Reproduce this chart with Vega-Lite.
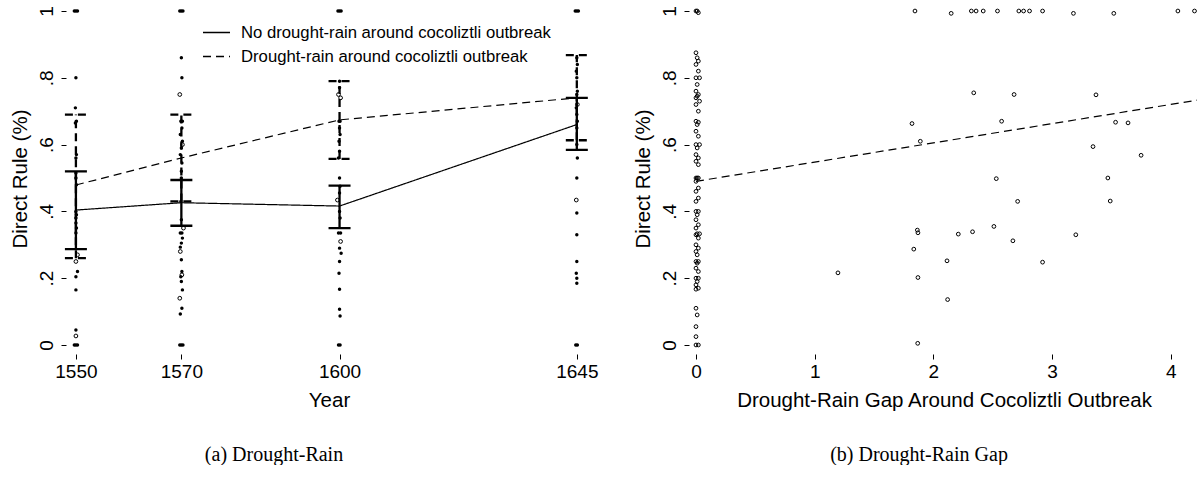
{
  "$schema": "https://vega.github.io/schema/vega-lite/v6.json",
  "background": "white",
  "padding": {"left": 10, "top": 5, "right": 0, "bottom": 0},
  "bounds": "flush",
  "spacing": 101,
  "config": {
    "view": {"stroke": null},
    "font": "Liberation Sans",
    "axis": {
      "domain": false, "grid": false, "ticks": true, "tickColor": "black", "tickSize": 5, "tickWidth": 1,
      "labelColor": "black", "titleColor": "black", "labelFontSize": 19, "titleFontSize": 20.5,
      "titleFontWeight": "normal", "labelFont": "Liberation Sans", "titleFont": "Liberation Sans", "offset": 2
    }
  },
  "datasets": {
    "pts1": [
      {"year": 1549.7, "v": 1.0, "k": "f"}, {"year": 1550.0, "v": 1.0, "k": "f"}, {"year": 1550.3, "v": 1.0, "k": "f"},
      {"year": 1550.0, "v": 0.8, "k": "f"}, {"year": 1549.9, "v": 0.71, "k": "f"}, {"year": 1550.1, "v": 0.67, "k": "f"},
      {"year": 1549.9, "v": 0.665, "k": "f"}, {"year": 1550.1, "v": 0.57, "k": "f"}, {"year": 1550.0, "v": 0.56, "k": "f"},
      {"year": 1550.0, "v": 0.515, "k": "f"}, {"year": 1550.0, "v": 0.5, "k": "f"}, {"year": 1550.1, "v": 0.48, "k": "f"},
      {"year": 1550.0, "v": 0.4, "k": "f"}, {"year": 1550.1, "v": 0.39, "k": "f"}, {"year": 1550.0, "v": 0.38, "k": "f"},
      {"year": 1550.0, "v": 0.365, "k": "f"}, {"year": 1550.1, "v": 0.35, "k": "f"}, {"year": 1550.0, "v": 0.335, "k": "f"},
      {"year": 1550.3, "v": 0.22, "k": "f"}, {"year": 1550.0, "v": 0.204, "k": "f"}, {"year": 1550.0, "v": 0.165, "k": "f"},
      {"year": 1550.0, "v": 0.045, "k": "f"}, {"year": 1549.7, "v": 0.0, "k": "f"}, {"year": 1550.0, "v": 0.0, "k": "f"},
      {"year": 1550.3, "v": 0.0, "k": "f"}, {"year": 1550.0, "v": 0.25, "k": "h"}, {"year": 1550.0, "v": 0.027, "k": "h"},
      {"year": 1550.3, "v": 0.27, "k": "h"},

      {"year": 1569.7, "v": 1.0, "k": "f"}, {"year": 1570.0, "v": 1.0, "k": "f"}, {"year": 1570.3, "v": 1.0, "k": "f"},
      {"year": 1570.0, "v": 0.86, "k": "f"}, {"year": 1570.1, "v": 0.8, "k": "f"}, {"year": 1569.9, "v": 0.67, "k": "f"},
      {"year": 1570.2, "v": 0.67, "k": "f"}, {"year": 1570.1, "v": 0.65, "k": "f"}, {"year": 1569.8, "v": 0.63, "k": "f"},
      {"year": 1570.2, "v": 0.61, "k": "f"}, {"year": 1570.0, "v": 0.59, "k": "f"}, {"year": 1569.8, "v": 0.57, "k": "f"},
      {"year": 1570.1, "v": 0.545, "k": "f"}, {"year": 1570.0, "v": 0.52, "k": "f"}, {"year": 1570.0, "v": 0.5, "k": "f"},
      {"year": 1569.9, "v": 0.43, "k": "f"}, {"year": 1570.0, "v": 0.375, "k": "f"}, {"year": 1569.8, "v": 0.335, "k": "f"},
      {"year": 1570.1, "v": 0.335, "k": "f"}, {"year": 1570.2, "v": 0.32, "k": "f"}, {"year": 1570.0, "v": 0.305, "k": "f"},
      {"year": 1569.8, "v": 0.293, "k": "f"}, {"year": 1570.0, "v": 0.255, "k": "f"}, {"year": 1570.1, "v": 0.22, "k": "f"},
      {"year": 1569.9, "v": 0.204, "k": "f"}, {"year": 1570.0, "v": 0.19, "k": "f"}, {"year": 1570.2, "v": 0.165, "k": "f"},
      {"year": 1570.1, "v": 0.11, "k": "f"}, {"year": 1569.8, "v": 0.093, "k": "f"}, {"year": 1569.7, "v": 0.0, "k": "f"},
      {"year": 1570.0, "v": 0.0, "k": "f"}, {"year": 1570.3, "v": 0.0, "k": "f"},
      {"year": 1569.7, "v": 0.75, "k": "h"}, {"year": 1570.2, "v": 0.6, "k": "h"}, {"year": 1570.4, "v": 0.35, "k": "h"},
      {"year": 1569.8, "v": 0.28, "k": "h"}, {"year": 1570.1, "v": 0.21, "k": "h"}, {"year": 1569.7, "v": 0.14, "k": "h"},

      {"year": 1599.7, "v": 1.0, "k": "f"}, {"year": 1600.0, "v": 1.0, "k": "f"}, {"year": 1600.3, "v": 1.0, "k": "f"},
      {"year": 1600.0, "v": 0.79, "k": "f"}, {"year": 1600.0, "v": 0.77, "k": "f"}, {"year": 1599.9, "v": 0.67, "k": "f"},
      {"year": 1600.1, "v": 0.67, "k": "f"}, {"year": 1600.0, "v": 0.65, "k": "f"}, {"year": 1600.1, "v": 0.63, "k": "f"},
      {"year": 1599.9, "v": 0.61, "k": "f"}, {"year": 1600.0, "v": 0.58, "k": "f"}, {"year": 1599.8, "v": 0.56, "k": "f"},
      {"year": 1600.0, "v": 0.5, "k": "f"}, {"year": 1600.1, "v": 0.475, "k": "f"}, {"year": 1600.0, "v": 0.455, "k": "f"},
      {"year": 1600.0, "v": 0.4, "k": "f"}, {"year": 1600.1, "v": 0.38, "k": "f"}, {"year": 1599.8, "v": 0.335, "k": "f"},
      {"year": 1600.2, "v": 0.335, "k": "f"}, {"year": 1600.0, "v": 0.29, "k": "f"}, {"year": 1600.3, "v": 0.275, "k": "f"},
      {"year": 1600.0, "v": 0.25, "k": "f"}, {"year": 1599.9, "v": 0.215, "k": "f"}, {"year": 1600.0, "v": 0.167, "k": "f"},
      {"year": 1600.0, "v": 0.107, "k": "f"}, {"year": 1600.1, "v": 0.087, "k": "f"}, {"year": 1599.8, "v": 0.0, "k": "f"},
      {"year": 1600.1, "v": 0.0, "k": "f"},
      {"year": 1599.8, "v": 0.75, "k": "h"}, {"year": 1600.2, "v": 0.74, "k": "h"}, {"year": 1599.6, "v": 0.434, "k": "h"},
      {"year": 1600.2, "v": 0.31, "k": "h"},

      {"year": 1644.7, "v": 1.0, "k": "f"}, {"year": 1645.0, "v": 1.0, "k": "f"}, {"year": 1645.3, "v": 1.0, "k": "f"},
      {"year": 1645.0, "v": 0.86, "k": "f"}, {"year": 1645.1, "v": 0.84, "k": "f"}, {"year": 1644.9, "v": 0.82, "k": "f"},
      {"year": 1645.0, "v": 0.8, "k": "f"}, {"year": 1645.1, "v": 0.76, "k": "f"}, {"year": 1645.0, "v": 0.75, "k": "f"},
      {"year": 1644.9, "v": 0.71, "k": "f"}, {"year": 1645.0, "v": 0.69, "k": "f"}, {"year": 1645.1, "v": 0.67, "k": "f"},
      {"year": 1645.0, "v": 0.65, "k": "f"}, {"year": 1645.0, "v": 0.6, "k": "f"}, {"year": 1645.1, "v": 0.56, "k": "f"},
      {"year": 1645.0, "v": 0.5, "k": "f"}, {"year": 1645.0, "v": 0.395, "k": "f"}, {"year": 1645.0, "v": 0.33, "k": "f"},
      {"year": 1645.0, "v": 0.25, "k": "f"}, {"year": 1644.9, "v": 0.215, "k": "f"}, {"year": 1645.0, "v": 0.2, "k": "f"},
      {"year": 1645.0, "v": 0.185, "k": "f"}, {"year": 1644.8, "v": 0.0, "k": "f"}, {"year": 1645.1, "v": 0.0, "k": "f"},
      {"year": 1644.9, "v": 0.434, "k": "h"}, {"year": 1645.1, "v": 0.72, "k": "h"}
    ],
    "means": [
      {"year": 1550, "v": 0.404, "lo": 0.287, "hi": 0.52, "g": "No drought-rain around cocoliztli outbreak"},
      {"year": 1570, "v": 0.426, "lo": 0.357, "hi": 0.494, "g": "No drought-rain around cocoliztli outbreak"},
      {"year": 1600, "v": 0.416, "lo": 0.35, "hi": 0.477, "g": "No drought-rain around cocoliztli outbreak"},
      {"year": 1645, "v": 0.66, "lo": 0.584, "hi": 0.74, "g": "No drought-rain around cocoliztli outbreak"},
      {"year": 1550, "v": 0.479, "lo": 0.26, "hi": 0.69, "g": "Drought-rain around cocoliztli outbreak"},
      {"year": 1570, "v": 0.56, "lo": 0.43, "hi": 0.69, "g": "Drought-rain around cocoliztli outbreak"},
      {"year": 1600, "v": 0.674, "lo": 0.557, "hi": 0.79, "g": "Drought-rain around cocoliztli outbreak"},
      {"year": 1645, "v": 0.74, "lo": 0.613, "hi": 0.868, "g": "Drought-rain around cocoliztli outbreak"}
    ],
    "pts2": [
      {"gap": 0.0, "v": 1.0}, {"gap": 0.01, "v": 1.0}, {"gap": 0.02, "v": 0.995}, {"gap": 0.0, "v": 0.875},
      {"gap": 0.01, "v": 0.86}, {"gap": 0.02, "v": 0.85}, {"gap": 0.0, "v": 0.84}, {"gap": 0.02, "v": 0.82},
      {"gap": 0.0, "v": 0.8}, {"gap": 0.03, "v": 0.8}, {"gap": 0.01, "v": 0.78}, {"gap": 0.0, "v": 0.76},
      {"gap": 0.02, "v": 0.75}, {"gap": 0.01, "v": 0.745}, {"gap": 0.0, "v": 0.74}, {"gap": 0.03, "v": 0.73},
      {"gap": 0.0, "v": 0.72}, {"gap": 0.02, "v": 0.7}, {"gap": 0.0, "v": 0.67}, {"gap": 0.02, "v": 0.667},
      {"gap": 0.01, "v": 0.66}, {"gap": 0.0, "v": 0.64}, {"gap": 0.02, "v": 0.625}, {"gap": 0.0, "v": 0.6},
      {"gap": 0.03, "v": 0.6}, {"gap": 0.01, "v": 0.59}, {"gap": 0.0, "v": 0.57}, {"gap": 0.02, "v": 0.56},
      {"gap": 0.0, "v": 0.55}, {"gap": 0.02, "v": 0.54}, {"gap": 0.0, "v": 0.5}, {"gap": 0.01, "v": 0.5},
      {"gap": 0.02, "v": 0.5}, {"gap": 0.0, "v": 0.49}, {"gap": 0.02, "v": 0.47}, {"gap": 0.0, "v": 0.46},
      {"gap": 0.02, "v": 0.44}, {"gap": 0.0, "v": 0.43}, {"gap": 0.0, "v": 0.4}, {"gap": 0.02, "v": 0.4},
      {"gap": 0.01, "v": 0.39}, {"gap": 0.0, "v": 0.375}, {"gap": 0.02, "v": 0.36}, {"gap": 0.0, "v": 0.35},
      {"gap": 0.01, "v": 0.333}, {"gap": 0.03, "v": 0.333}, {"gap": 0.0, "v": 0.33}, {"gap": 0.02, "v": 0.32},
      {"gap": 0.0, "v": 0.3}, {"gap": 0.02, "v": 0.29}, {"gap": 0.0, "v": 0.28}, {"gap": 0.01, "v": 0.27},
      {"gap": 0.0, "v": 0.25}, {"gap": 0.02, "v": 0.25}, {"gap": 0.01, "v": 0.245}, {"gap": 0.0, "v": 0.23},
      {"gap": 0.02, "v": 0.22}, {"gap": 0.0, "v": 0.2}, {"gap": 0.02, "v": 0.2}, {"gap": 0.01, "v": 0.19},
      {"gap": 0.0, "v": 0.18}, {"gap": 0.02, "v": 0.17}, {"gap": 0.0, "v": 0.167}, {"gap": 0.0, "v": 0.11},
      {"gap": 0.01, "v": 0.09}, {"gap": 0.0, "v": 0.055}, {"gap": 0.0, "v": 0.025}, {"gap": 0.0, "v": 0.0},
      {"gap": 0.02, "v": 0.0},
      {"gap": 1.845, "v": 1.0}, {"gap": 2.15, "v": 0.993}, {"gap": 2.32, "v": 1.0}, {"gap": 2.36, "v": 1.0},
      {"gap": 2.42, "v": 1.0}, {"gap": 2.54, "v": 1.0}, {"gap": 2.72, "v": 1.0}, {"gap": 2.76, "v": 1.0},
      {"gap": 2.81, "v": 1.0}, {"gap": 2.92, "v": 1.0}, {"gap": 3.18, "v": 0.993}, {"gap": 3.52, "v": 0.993},
      {"gap": 4.06, "v": 1.0}, {"gap": 4.2, "v": 1.0}, {"gap": 2.34, "v": 0.755}, {"gap": 2.68, "v": 0.75},
      {"gap": 3.37, "v": 0.749}, {"gap": 1.82, "v": 0.663}, {"gap": 2.575, "v": 0.67}, {"gap": 3.535, "v": 0.667},
      {"gap": 3.64, "v": 0.665}, {"gap": 1.89, "v": 0.61}, {"gap": 3.345, "v": 0.594}, {"gap": 3.75, "v": 0.568},
      {"gap": 2.53, "v": 0.498}, {"gap": 3.47, "v": 0.5}, {"gap": 2.71, "v": 0.43}, {"gap": 3.49, "v": 0.431},
      {"gap": 1.865, "v": 0.344}, {"gap": 1.87, "v": 0.336}, {"gap": 2.21, "v": 0.332}, {"gap": 2.33, "v": 0.339},
      {"gap": 2.51, "v": 0.355}, {"gap": 2.67, "v": 0.312}, {"gap": 3.2, "v": 0.33}, {"gap": 1.835, "v": 0.287},
      {"gap": 2.115, "v": 0.252}, {"gap": 2.92, "v": 0.248}, {"gap": 1.87, "v": 0.202}, {"gap": 2.12, "v": 0.136},
      {"gap": 1.868, "v": 0.005}, {"gap": 1.196, "v": 0.216}
    ],
    "fit": [
      {"gap": 0.0, "v": 0.49},
      {"gap": 4.221, "v": 0.733}
    ]
  },
  "hconcat": [
    {
      "width": 522,
      "height": 347,
      "title": {"text": "(a) Drought-Rain", "orient": "bottom", "font": "Liberation Serif", "fontSize": 20, "fontWeight": "normal", "color": "black", "offset": 34, "dx": -55},
      "layer": [
        {
          "data": {"name": "pts1"},
          "transform": [{"filter": "datum.k == 'f'"}],
          "mark": {"type": "point", "filled": true, "size": 12, "color": "black", "opacity": 1},
          "encoding": {
            "x": {"field": "year", "type": "quantitative", "scale": {"domain": [1548.5, 1647.5], "nice": false, "zero": false},
                  "axis": {"values": [1550, 1570, 1600, 1645], "format": "d", "title": "Year", "labelPadding": 3, "titlePadding": 9}},
            "y": {"field": "v", "type": "quantitative", "scale": {"domain": [-0.021, 1.018], "nice": false, "zero": false},
                  "axis": {"values": [0, 0.2, 0.4, 0.6, 0.8, 1], "labelAngle": -90, "labelPadding": 5, "titlePadding": 7, "title": "Direct Rule (%)",
                           "labelExpr": "datum.value == 0 ? '0' : datum.value == 1 ? '1' : replace(format(datum.value, '.1f'), '0.', '.')"}}
          }
        },
        {
          "data": {"name": "pts1"},
          "transform": [{"filter": "datum.k == 'h'"}],
          "mark": {"type": "point", "filled": false, "size": 14, "strokeWidth": 1, "color": "black", "opacity": 1},
          "encoding": {
            "x": {"field": "year", "type": "quantitative", "scale": {"domain": [1548.5, 1647.5], "nice": false, "zero": false}},
            "y": {"field": "v", "type": "quantitative", "scale": {"domain": [-0.021, 1.018], "nice": false, "zero": false}}
          }
        },
        {
          "data": {"name": "means"},
          "mark": {"type": "line", "strokeWidth": 1.2, "color": "black"},
          "encoding": {
            "x": {"field": "year", "type": "quantitative"},
            "y": {"field": "v", "type": "quantitative"},
            "strokeDash": {"field": "g", "type": "nominal", "sort": null,
                           "scale": {"domain": ["No drought-rain around cocoliztli outbreak", "Drought-rain around cocoliztli outbreak"], "range": [[1, 0], [8, 5]]},
                           "legend": {"orient": "none", "legendX": 134, "legendY": 13, "title": null, "symbolType": "stroke",
                                      "symbolSize": 729, "symbolStrokeWidth": 1.3, "symbolStrokeColor": "black",
                                      "labelFontSize": 16.7, "labelFont": "Liberation Sans", "labelColor": "black",
                                      "rowPadding": -5, "labelOffset": 10, "labelLimit": 500}}
          }
        },
        {
          "data": {"name": "means"},
          "mark": {"type": "rule", "strokeWidth": 2.3, "color": "black"},
          "encoding": {
            "x": {"field": "year", "type": "quantitative"},
            "y": {"field": "lo", "type": "quantitative"},
            "y2": {"field": "hi"},
            "strokeDash": {"field": "g", "type": "nominal", "sort": null}
          }
        },
        {
          "data": {"name": "means"},
          "mark": {"type": "rule", "strokeWidth": 2.3, "color": "black", "xOffset": -11, "x2Offset": 11},
          "encoding": {
            "x": {"field": "year", "type": "quantitative"},
            "x2": {"field": "year"},
            "y": {"field": "lo", "type": "quantitative"},
            "strokeDash": {"field": "g", "type": "nominal", "sort": null}
          }
        },
        {
          "data": {"name": "means"},
          "mark": {"type": "rule", "strokeWidth": 2.3, "color": "black", "xOffset": -11, "x2Offset": 11},
          "encoding": {
            "x": {"field": "year", "type": "quantitative"},
            "x2": {"field": "year"},
            "y": {"field": "hi", "type": "quantitative"},
            "strokeDash": {"field": "g", "type": "nominal", "sort": null}
          }
        }
      ]
    },
    {
      "width": 506,
      "height": 347,
      "title": {"text": "(b) Drought-Rain Gap", "orient": "bottom", "font": "Liberation Serif", "fontSize": 20, "fontWeight": "normal", "color": "black", "offset": 34, "dx": -25},
      "layer": [
        {
          "data": {"name": "pts2"},
          "mark": {"type": "point", "filled": false, "size": 14, "strokeWidth": 1, "color": "black", "opacity": 1},
          "encoding": {
            "x": {"field": "gap", "type": "quantitative", "scale": {"domain": [-0.042, 4.221], "nice": false, "zero": false},
                  "axis": {"values": [0, 1, 2, 3, 4], "format": "d", "title": "Drought-Rain Gap Around Cocoliztli Outbreak", "labelPadding": 3, "titlePadding": 9}},
            "y": {"field": "v", "type": "quantitative", "scale": {"domain": [-0.021, 1.018], "nice": false, "zero": false},
                  "axis": {"values": [0, 0.2, 0.4, 0.6, 0.8, 1], "labelAngle": -90, "labelPadding": 5, "titlePadding": 7, "title": "Direct Rule (%)",
                           "labelExpr": "datum.value == 0 ? '0' : datum.value == 1 ? '1' : replace(format(datum.value, '.1f'), '0.', '.')"}}
          }
        },
        {
          "data": {"name": "fit"},
          "mark": {"type": "line", "strokeWidth": 1.2, "color": "black", "strokeDash": [8, 5]},
          "encoding": {
            "x": {"field": "gap", "type": "quantitative", "scale": {"domain": [-0.042, 4.221], "nice": false, "zero": false}},
            "y": {"field": "v", "type": "quantitative", "scale": {"domain": [-0.021, 1.018], "nice": false, "zero": false}}
          }
        }
      ]
    }
  ]
}
